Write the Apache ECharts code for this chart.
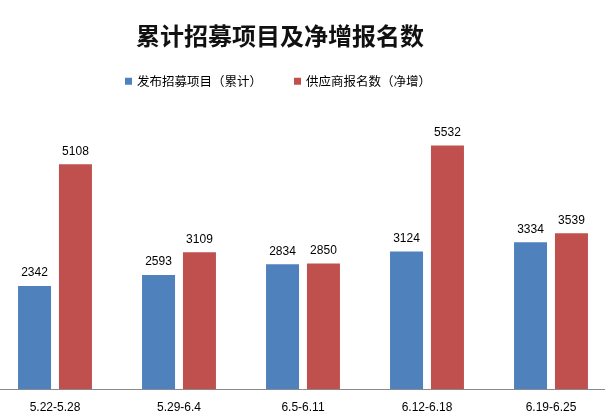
<!DOCTYPE html>
<html><head><meta charset="utf-8">
<script src="https://cdn.jsdelivr.net/npm/echarts@6/dist/echarts.min.js"></script>
<style>html,body{margin:0;padding:0;background:#fff}#c{width:605px;height:419px}</style>
</head><body><div id="c"></div>
<script>
var categories = ['5.22-5.28', '5.29-6.4', '6.5-6.11', '6.12-6.18', '6.19-6.25'];
var seriesNames = ['发布招募项目（累计）', '供应商报名数（净增）'];
var projects = [2342, 2593, 2834, 3124, 3334];
var suppliers = [5108, 3109, 2850, 5532, 3539];

var chart = echarts.init(document.getElementById('c'));
var lbl = {show: true, position: 'top', distance: 7, color: '#000', fontSize: 12, fontFamily: 'Liberation Sans'};
chart.setOption({
  animation: false,
  title: {
    text: '累计招募项目及净增报名数',
    left: 275, top: 19, textAlign: 'center',
    textStyle: {fontSize: 24, fontWeight: 'bold', color: '#111', fontFamily: 'Noto Sans CJK SC'}
  },
  legend: {
    left: 120, top: 70,
    itemWidth: 7, itemHeight: 7, itemGap: 32, icon: 'rect',
    textStyle: {fontSize: 12.5, color: '#000', fontFamily: 'Noto Sans CJK SC'},
    data: seriesNames
  },
  grid: {left: -7, right: -8, top: 125, bottom: 30, outerBoundsMode: 'none', containLabel: false},
  xAxis: {
    type: 'category', data: categories,
    axisLine: {lineStyle: {color: '#8a8a8a', width: 1}},
    axisTick: {show: false},
    axisLabel: {color: '#000', fontSize: 12, fontFamily: 'Liberation Sans', margin: 13}
  },
  yAxis: {type: 'value', min: 0, max: 6000, show: false, splitLine: {show: false}},
  series: [
    {name: seriesNames[0], type: 'bar', data: projects, barWidth: 33, barGap: '24%', itemStyle: {color: '#4F81BD'}, label: lbl},
    {name: seriesNames[1], type: 'bar', data: suppliers, barWidth: 33, barGap: '24%', itemStyle: {color: '#C0504D'}, label: lbl}
  ]
});
</script></body></html>
